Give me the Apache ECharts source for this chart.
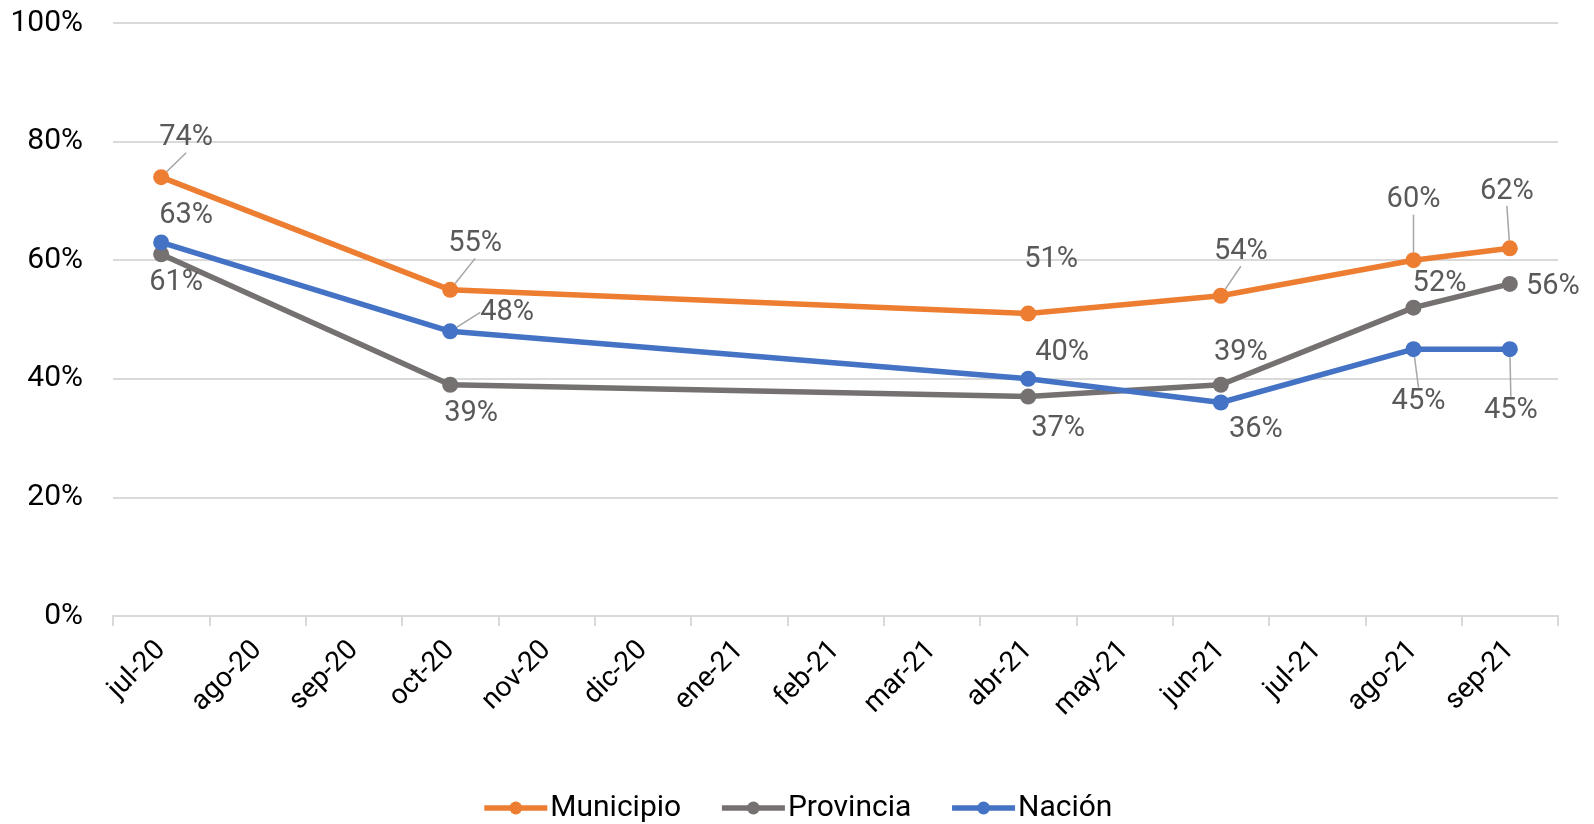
<!DOCTYPE html>
<html>
<head>
<meta charset="utf-8">
<script src="https://cdn.jsdelivr.net/npm/echarts@6/dist/echarts.min.js"></script>
<style>
html,body{margin:0;padding:0;background:#fff;}
#chart{width:1594px;height:824px;}
</style>
</head>
<body>
<div id="chart"></div>
<script>
const categories = ['jul-20','ago-20','sep-20','oct-20','nov-20','dic-20','ene-21','feb-21','mar-21','abr-21','may-21','jun-21','jul-21','ago-21','sep-21'];
const municipio = [74, null, null, 55, null, null, null, null, null, 51, null, 54, null, 60, 62];
const provincia = [61, null, null, 39, null, null, null, null, null, 37, null, 39, null, 52, 56];
const nacion    = [63, null, null, 48, null, null, null, null, null, 40, null, 36, null, 45, 45];
const yTicks = [0, 20, 40, 60, 80, 100];

// label placement (offset from the point, in px), indexed by category
const labelShift = [
  {0:[25,-39],3:[25,-46],9:[23,-54],11:[20,-44],13:[0,-60],14:[-3,-57]},
  {0:[15,28],3:[21,29],9:[30,32],11:[20,-32],13:[26,-24],14:[43,3]},
  {0:[25,-27],3:[57,-19],9:[34,-26],11:[35,27],13:[5,53],14:[1,62]}
];
const leader = [
  {0:true,3:true,11:true,13:true,14:true},
  {},
  {3:true,13:true,14:true}
];

const names = ['Municipio','Provincia','Nación'];
const colors = ['#ED7D31','#767171','#4472C4'];
const values = [municipio, provincia, nacion];
const FONT = 'Roboto';

const series = values.map((vals, si) => ({
  name: names[si],
  type: 'line',
  connectNulls: true,
  symbol: 'circle',
  symbolSize: 16,
  lineStyle: {width: 5.5, color: colors[si]},
  itemStyle: {color: colors[si]},
  label: {
    show: true,
    position: 'inside',
    formatter: p => p.value + '%',
    color: '#595959',
    fontFamily: FONT,
    fontSize: 29
  },
  labelLine: {show: false, lineStyle: {color: '#a6a6a6', width: 1.5}},
  labelLayout: function (params) {
    const s = labelShift[si][params.dataIndex] || [0, 0];
    return {dx: s[0], dy: s[1]};
  },
  data: vals.map((v, i) => v === null ? null : {
    value: v,
    labelLine: {show: !!leader[si][i], lineStyle: {color: '#a6a6a6', width: 1.5}}
  })
}));

const chart = echarts.init(document.getElementById('chart'), null, {renderer: 'canvas'});
chart.setOption({
  animation: false,
  backgroundColor: '#fff',
  grid: {left: 113, right: 36, top: 23, bottom: 208},
  legend: {
    bottom: -4,
    left: 'center',
    itemWidth: 63,
    itemHeight: 16,
    itemGap: 38,
    lineStyle: {width: 5.5},
    textStyle: {fontFamily: FONT, fontSize: 30, color: '#000', padding: [0, 0, 0, -2]},
    data: names
  },
  xAxis: {
    type: 'category',
    data: categories,
    boundaryGap: true,
    axisLine: {lineStyle: {color: '#d9d9d9', width: 2}},
    axisTick: {show: true, interval: 0, length: 10, lineStyle: {color: '#d9d9d9', width: 2}},
    axisLabel: {interval: 0, rotate: 45, margin: 30, fontFamily: FONT, fontSize: 28, color: '#000'}
  },
  yAxis: {
    type: 'value',
    min: yTicks[0],
    max: yTicks[yTicks.length - 1],
    interval: 20,
    axisLine: {show: false},
    axisTick: {show: false},
    splitLine: {lineStyle: {color: '#d9d9d9', width: 2}},
    axisLabel: {formatter: '{value}%', margin: 30, fontFamily: FONT, fontSize: 30, color: '#000'}
  },
  series: series
});
</script>
</body>
</html>
